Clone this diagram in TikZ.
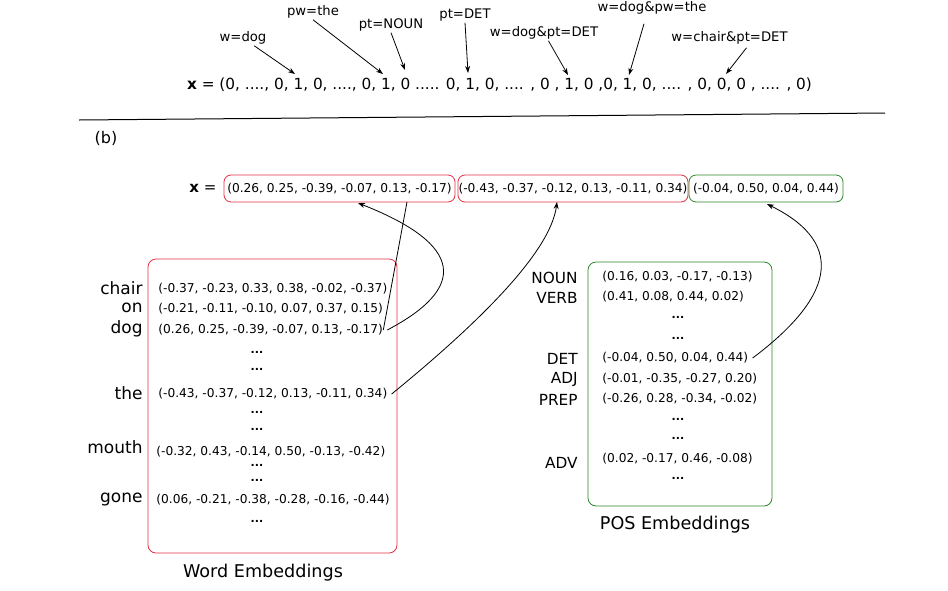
\documentclass[tikz,border=0pt]{standalone}
\usepackage{fontspec}
\setmainfont{DejaVu Sans}
\usetikzlibrary{arrows.meta}

\definecolor{wred}{RGB}{226,48,68}
\definecolor{pgreen}{RGB}{42,136,42}

\begin{document}
\begin{tikzpicture}[x=1pt,y=-1pt,
                line width=0.8pt,
                feat/.style={inner sep=1pt,font=\fontsize{13.2}{15}\selectfont},
                vec/.style={inner sep=0pt,anchor=west,font=\fontsize{12.2}{14}\selectfont},
                word/.style={inner sep=0pt,anchor=east,font=\fontsize{17}{19}\selectfont},
                tag/.style={inner sep=0pt,anchor=east,font=\fontsize{15.3}{17}\selectfont},
                tabletitle/.style={inner sep=0pt,font=\fontsize{17.6}{19}\selectfont},
                more/.style={inner sep=0pt,font=\bfseries\fontsize{11}{12}\selectfont},
                emb/.style={draw,rounded corners=8pt,inner sep=0pt},
                slot/.style={draw,rounded corners=7pt,inner sep=0pt,minimum height=27pt,
                             text=black,font=\fontsize{12.2}{14}\selectfont},
                tip/.style={-{Stealth[length=7pt,width=5pt]}}] %

\useasboundingbox (0,0) rectangle (948,590);

% (a) sparse feature vector
                    \node[inner sep=0pt,font=\fontsize{15.3}{17}\selectfont] (xa) at (499.5,85)
                        {\textbf{x} = (0, ...., 0, 1, 0, ...., 0, 1, 0 ..... 0, 1, 0, .... , 0 , 1, 0 ,0, 1, 0, .... , 0, 0, 0 , .... , 0)};

                    \node[feat] (fw)    at (243,38)  {w=dog};
                    \node[feat] (fpw)   at (313,12)  {pw=the};
                    \node[feat] (fpt)   at (391,25)  {pt=NOUN};
                    \node[feat] (fdet)  at (465,15)  {pt=DET};
                    \node[feat] (fwdet) at (544,33)  {w=dog\&pt=DET};
                    \node[feat] (fwpw)  at (652,8)   {w=dog\&pw=the};
                    \node[feat] (fwch)  at (729.5,38) {w=chair\&pt=DET};

                    \coordinate (t1) at (295,74);
                    \coordinate (t2) at (383,74);
                    \coordinate (t3) at (405,70);
                    \coordinate (t4) at (468,73);
                    \coordinate (t5) at (568,75);
                    \coordinate (t6) at (629,75);
                    \coordinate (t7) at (726,74);

                    \draw[tip] (fw) -- (t1);
                    \draw[tip] (fpw.south) -- (t2);
                    \draw[tip] (fpt.south) -- (t3);
                    \draw[tip] (fdet.south) -- (t4);
                    \draw[tip] (fwdet) -- (t5);
                    \draw[tip] ([xshift=-8pt,yshift=-8pt]fwpw.south) -- (t6);
                    \draw[tip] ([xshift=17pt,yshift=-2pt]fwch.south) -- (t7);

%%%%%%%%%%%%%%%%%%%%%%%%%%%%%%%%%%%%%%%%%%%%%%%%%%%%%%%%%%%%%%%%%%%%%%%%%%%%%%%%%%%%

                    \coordinate (sepl) at (79,120);
                    \coordinate (sepr) at (885,113);
                    \draw[line width=1pt] (sepl) -- (sepr);

% (b) dense embeddings
                    \node[inner sep=0pt,font=\fontsize{16}{18}\selectfont] (bl) at (106,138) {(b)};

                    \node[inner sep=0pt,font=\fontsize{15}{17}\selectfont] (xb) at (203,188) {\textbf{x} =};
                    \node[slot,draw=wred,minimum width=231pt] (sw) at (339.5,188.5) {(0.26, 0.25, -0.39, -0.07, 0.13, -0.17)};
                    \node[slot,draw=wred,minimum width=230pt] (spw) at (573,188.5) {(-0.43, -0.37, -0.12, 0.13, -0.11, 0.34)};
                    \node[slot,draw=pgreen,minimum width=154pt] (spt) at (766,188.5) {(-0.04, 0.50, 0.04, 0.44)};

                    % word embeddings
                    \node[emb,draw=wred,minimum width=249pt,minimum height=294pt] (wbox) at (272.5,406) {};
                    \node[word] (lchair) at (143,288) {chair};
                    \node[word] (lon)    at (143,308) {on};
                    \node[word] (ldog)   at (143,329) {dog};
                    \node[word] (lthe)   at (143,393) {the};
                    \node[word] (lmouth) at (143,447) {mouth};
                    \node[word] (lgone)  at (143,499) {gone};

                    \node[vec] (wchair) at (158,289) {(-0.37, -0.23, 0.33, 0.38, -0.02, -0.37)};
                    \node[vec] (won)    at (158,309) {(-0.21, -0.11, -0.10, 0.07, 0.37, 0.15)};
                    \node[vec] (wdog)   at (158,330) {(0.26, 0.25, -0.39, -0.07, 0.13, -0.17)};
                    \node[vec] (wthe)   at (158,394) {(-0.43, -0.37, -0.12, 0.13, -0.11, 0.34)};
                    \node[vec] (wmouth) at (156,452) {(-0.32, 0.43, -0.14, 0.50, -0.13, -0.42)};
                    \node[vec] (wgone)  at (156,500) {(0.06, -0.21, -0.38, -0.28, -0.16, -0.44)};
                    \foreach \y/\n in {352/1,369/2,412/3,429/4,465/5,480/6,521/7}
                        \node[more] (wm\n) at (257,\y) {...};

                    \node[tabletitle] (wcap) at (263,573) {Word Embeddings};

                    % POS embeddings
                    \node[emb,draw=pgreen,minimum width=184pt,minimum height=244pt] (pbox) at (680,384) {};
                    \node[tag] (lnoun) at (578,278) {NOUN};
                    \node[tag] (lverb) at (578,298) {VERB};
                    \node[tag] (ldet)  at (578,359) {DET};
                    \node[tag] (ladj)  at (578,379) {ADJ};
                    \node[tag] (lprep) at (578,400) {PREP};
                    \node[tag] (ladv)  at (578,463) {ADV};

                    \node[vec] (pnoun) at (602,277) {(0.16, 0.03, -0.17, -0.13)};
                    \node[vec] (pverb) at (602,297) {(0.41, 0.08, 0.44, 0.02)};
                    \node[vec] (pdet)  at (602,358) {(-0.04, 0.50, 0.04, 0.44)};
                    \node[vec] (padj)  at (602,379) {(-0.01, -0.35, -0.27, 0.20)};
                    \node[vec] (pprep) at (602,399) {(-0.26, 0.28, -0.34, -0.02)};
                    \node[vec] (padv)  at (602,459) {(0.02, -0.17, 0.46, -0.08)};
                    \foreach \y/\n in {317/1,338/2,419/3,438/4,478/5}
                        \node[more] (pm\n) at (678,\y) {...};

                    \node[tabletitle] (pcap) at (675,525) {POS Embeddings};

                    % lookups
                    \coordinate (c1) at (407,202);
                    \coordinate (a1) at (358,203);
                    \coordinate (a2) at (557,202);
                    \coordinate (a3) at (767,204);
                    \draw (wdog.east) -- (c1);
                    \draw[tip] ([xshift=4pt]wdog.east) .. controls (467,288) and (465,245) .. (a1);
                    \draw[tip] ([xshift=4pt]wthe.east) .. controls (470,330) and (550,255) .. (a2);
                    \draw[tip] ([xshift=4pt]pdet.east) .. controls (830,300) and (850,245) .. (a3);

\end{tikzpicture}
\end{document}
